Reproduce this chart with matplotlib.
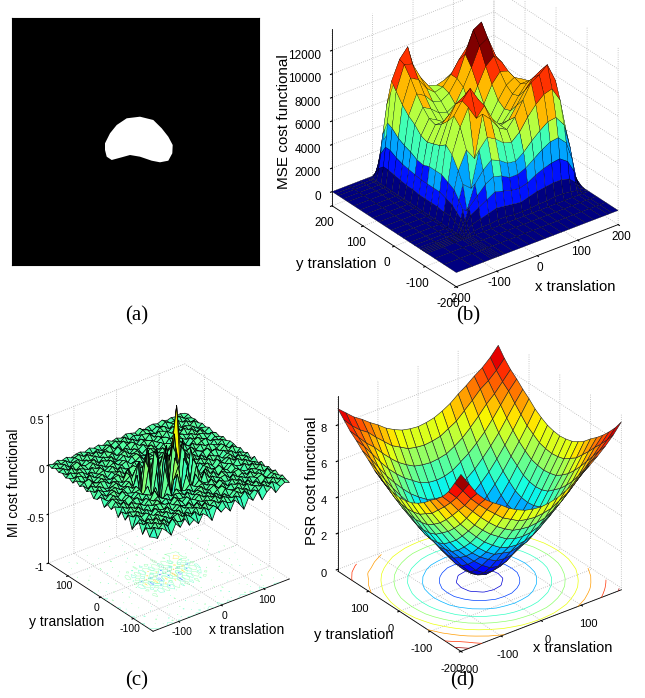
import numpy as np
import matplotlib
matplotlib.use('Agg')
import matplotlib.pyplot as plt

plt.rcParams['font.family'] = ['Liberation Sans', 'DejaVu Sans']
plt.rcParams['axes.unicode_minus'] = False

W, H = 645, 698

# (a) shape outline, in image pixels
shape_x = [93, 98, 104.7, 114.7, 128, 141.3, 149.7, 156.3, 160.7, 160.3, 156.3, 148, 139.7, 128, 118, 109.7, 99.7, 94.7, 93]
shape_y = [125.3, 115.3, 107, 100.3, 98.7, 102, 110.3, 118.7, 127, 135.3, 142.7, 144.3, 142.7, 138.7, 137, 139.3, 142, 138.7, 132]

# (b) MSE surface, values in hundreds
mse_x = [-200, -160, -130, -112, -106, -100, -95, -90, -80, -60, -40, -20, 0, 20, 40, 60, 80, 100, 120, 140, 160, 175, 185, 200]
mse_y = [-200, -160, -130, -105, -100, -95, -90, -85, -78, -65, -50, -30, -10, 10, 30, 50, 70, 90, 110, 130, 150, 165, 180, 190, 200]
mse_inner = [
    [0, 1, 1, 2, 3, 3, 4, 4, 3, 3, 3, 4, 4, 5, 5, 4, 3, 1],
    [1, 3, 5, 7, 9, 11, 13, 12, 11, 10, 12, 14, 15, 16, 16, 14, 9, 3],
    [3, 5, 9, 14, 18, 22, 26, 24, 22, 21, 23, 27, 30, 32, 33, 28, 18, 6],
    [4, 8, 10, 20, 27, 34, 38, 36, 32, 32, 35, 40, 45, 49, 50, 43, 27, 9],
    [5, 11, 18, 16, 36, 45, 51, 48, 43, 42, 47, 54, 60, 65, 66, 57, 36, 12],
    [7, 14, 24, 36, 30, 60, 68, 64, 58, 56, 62, 72, 80, 86, 88, 76, 48, 16],
    [9, 18, 30, 45, 60, 50, 85, 78, 68, 64, 72, 84, 96, 100, 106, 90, 56, 20],
    [9, 20, 33, 55, 76, 90, 78, 86, 72, 64, 66, 76, 86, 94, 98, 84, 54, 20],
    [10, 22, 36, 60, 82, 92, 100, 88, 70, 60, 60, 68, 78, 86, 88, 76, 50, 18],
    [10, 22, 36, 56, 74, 86, 90, 76, 60, 54, 56, 66, 76, 82, 82, 72, 48, 18],
    [10, 22, 36, 54, 68, 74, 70, 62, 54, 52, 58, 70, 80, 84, 80, 68, 46, 17],
    [10, 22, 34, 52, 64, 64, 58, 54, 52, 56, 66, 80, 88, 86, 76, 64, 42, 15],
    [11, 23, 35, 54, 66, 62, 56, 54, 56, 64, 78, 92, 98, 90, 74, 60, 40, 14],
    [11, 24, 38, 60, 72, 68, 62, 60, 64, 76, 90, 106, 110, 92, 74, 56, 36, 12],
    [12, 25, 40, 64, 80, 76, 68, 66, 70, 80, 98, 116, 120, 96, 70, 50, 30, 10],
    [13, 27, 43, 70, 90, 86, 76, 70, 72, 80, 90, 98, 96, 78, 56, 40, 24, 8],
    [14, 30, 48, 78, 98, 96, 82, 72, 70, 72, 76, 78, 70, 56, 40, 28, 16, 5],
    [14, 30, 50, 84, 100, 108, 82, 66, 58, 56, 56, 54, 46, 36, 24, 16, 9, 3],
    [10, 22, 38, 62, 80, 74, 54, 42, 36, 32, 30, 28, 24, 18, 12, 8, 4, 1],
    [5, 10, 18, 30, 38, 32, 24, 18, 15, 13, 12, 10, 8, 6, 4, 2, 1, 0],
]

# (c) MI surface, values in units of 0.005
z_mi = [
    [-8,-14,3,-6,-18,2,-9,5,-12,-4,-16,1,-7,-20,3,-10,-3,-15,4,-8,-22,-2,-11,3,-17,-5,2,-13,-4,1,-3],
    [-12,4,-3,6,-5,7,-2,-6,5,-3,4,-8,6,-4,2,-7,5,-2,-6,4,-3,7,-5,2,-4,6,-2,5,-3,4,-1],
    [2,-4,6,-2,5,-7,3,6,-4,2,-6,5,-2,7,-3,4,-5,6,-1,-4,5,-3,4,-6,3,-2,5,-4,6,-2,3],
    [-16,5,-2,7,-4,3,-6,2,5,-7,3,-2,6,-5,4,-1,6,-4,3,-6,2,5,-3,6,-2,4,-6,3,-1,5,-2],
    [3,-5,4,-3,6,-2,5,-4,-1,6,-3,5,-6,2,-4,5,-2,3,-7,5,-1,-4,6,-3,5,-5,2,6,-4,2,4],
    [-6,2,-7,5,-1,4,-3,6,-5,3,-2,-6,4,-1,6,-3,4,-5,2,6,-4,3,-2,5,-6,3,-1,4,-5,6,-2],
    [-20,6,-2,3,-6,5,-1,-4,6,-2,5,-3,4,-6,2,5,-4,1,6,-3,4,-6,5,-2,3,-4,6,-2,3,-5,2],
    [4,-3,5,-4,2,-6,5,3,-2,-5,6,-1,-3,5,-4,2,6,-5,3,-2,5,-1,-4,6,-3,2,-5,4,-1,6,-3],
    [-10,3,-1,6,-5,3,-2,6,-4,2,-6,4,2,-5,3,-6,1,4,-3,6,-5,2,4,-6,3,5,-2,-4,6,-1,3],
    [2,-6,5,-2,4,-3,6,-1,5,-3,3,-5,6,-2,-4,5,-3,6,-2,-5,4,-3,6,1,-4,2,-6,5,-3,2,-4],
    [-14,4,-3,6,-1,-5,3,-4,12,-4,-10,16,-24,28,-12,20,-18,14,-8,12,-4,5,-6,3,-2,6,-1,-4,5,-3,4],
    [3,-2,6,-5,2,4,-6,3,-2,10,-32,44,-48,12,36,-40,30,-16,24,-6,10,-4,2,6,-5,3,-4,6,-2,4,-5],
    [-7,5,-4,1,6,-3,5,-2,12,-20,36,-56,60,-28,48,-52,40,-36,32,-10,-4,6,-3,-5,4,-2,6,-3,5,-1,3],
    [-2,6,2,-5,3,-6,2,4,-16,40,-60,52,-44,56,-36,50,-64,44,-28,24,-8,3,5,-4,6,-3,1,5,-6,3,-2],
    [-12,-3,5,-2,6,-1,-4,6,-28,52,-40,64,-68,36,-44,60,-32,52,-48,40,-12,4,-2,6,-3,5,-4,2,4,-5,3],
    [4,-5,3,6,-4,2,5,-3,20,-48,56,-52,48,-60,40,-36,56,-44,60,-52,16,-3,6,-2,5,-1,-6,4,-2,6,-1],
    [-5,2,-6,3,5,-3,-1,6,-8,36,-40,60,-36,52,-56,44,-52,68,-40,32,-8,5,-3,4,-6,3,5,-2,6,-3,2],
    [-8,6,-1,-4,2,6,-5,3,10,-24,32,-36,48,-28,40,-32,44,-24,36,-16,12,-2,4,-5,2,6,-3,-1,4,-5,3],
    [3,-4,5,-2,-6,4,1,-5,12,-6,12,-20,28,-16,24,-12,20,-8,28,110,-6,6,-5,3,-1,-4,6,2,-3,5,-1],
    [-3,5,-2,6,3,-5,4,6,-4,10,-8,8,-12,16,-6,10,-4,8,-6,36,10,-4,2,6,-3,5,-2,-6,4,-1,3],
    [4,-6,3,-1,5,-2,-4,2,6,-4,3,6,-2,-5,4,6,-3,2,6,-4,3,5,-1,-5,6,-2,3,5,-4,2,-2],
    [-2,3,6,-4,2,5,-6,3,-1,5,-2,-5,6,3,-4,1,5,-6,3,-2,6,-3,4,2,-5,3,6,-1,-4,5,1],
    [5,-1,-4,6,-3,1,5,-2,6,-4,2,6,-3,-1,5,-6,3,4,-2,5,-4,6,-1,3,-6,4,-2,5,2,-3,-2],
    [-4,6,2,-5,4,-3,6,-4,1,5,-3,3,-6,4,6,-2,-5,6,1,-3,5,2,-5,6,1,-4,5,-2,6,-3,3],
    [1,-3,5,2,-6,5,-1,3,-5,6,-2,-1,5,-3,2,4,-6,1,5,-4,3,-6,4,-1,5,2,-3,6,-4,1,-1],
    [-3,4,-2,5,1,-4,6,-3,4,-1,5,-6,2,6,-4,3,-2,5,-3,6,-1,4,2,-5,3,-2,6,-1,3,-5,2],
    [2,-5,6,-3,4,-1,2,5,-6,3,-2,4,-5,1,3,-4,6,-2,4,1,-5,3,-3,6,-2,5,-4,3,-1,6,-2],
    [-1,3,-4,2,6,-5,3,-2,4,-3,6,1,-2,5,-6,2,4,-5,3,-2,6,-4,5,1,-4,3,2,-6,5,-2,1],
    [3,-2,4,-6,1,3,-4,6,-1,5,-3,2,6,-4,1,5,-3,2,-6,4,2,-1,-5,4,3,-6,1,4,-3,2,-1],
    [-2,4,-1,3,-5,2,5,-3,2,-4,1,-5,3,-1,4,-2,5,-4,1,-3,5,2,-4,1,-3,4,-2,-1,5,-3,2],
    [1,-2,3,-1,2,-3,1,2,-2,3,-1,2,-3,4,-1,2,-2,3,1,-2,4,-3,1,2,-1,3,-2,1,-1,2,-1],
]

# (d) PSR surface
z_psr = [
    [9.7,9.0,8.3,7.8,7.45,7.15,6.8,6.55,6.35,6.25,6.2,6.25,6.35,6.55,6.8,7.15,7.45,7.8,8.2,8.65,9.2],
    [9.0,8.4,7.8,7.3,6.85,6.45,6.05,5.8,5.55,5.45,5.4,5.45,5.55,5.8,6.05,6.45,6.85,7.3,7.7,8.15,8.65],
    [8.3,7.8,7.2,6.7,6.2,5.75,5.35,5.05,4.8,4.7,4.65,4.7,4.8,5.05,5.35,5.75,6.2,6.7,7.2,7.7,8.2],
    [7.8,7.3,6.7,6.1,5.55,5.1,4.7,4.4,4.1,3.95,3.9,3.95,4.1,4.4,4.7,5.1,5.55,6.1,6.7,7.3,7.8],
    [7.45,6.85,6.2,5.55,5.0,4.5,4.05,3.7,3.4,3.25,3.2,3.25,3.4,3.7,4.05,4.5,5.0,5.55,6.2,6.85,7.45],
    [7.15,6.45,5.75,5.1,4.5,3.95,3.5,3.1,2.8,2.7,2.6,2.7,2.8,3.1,3.5,3.95,4.5,5.1,5.75,6.45,7.15],
    [6.8,6.05,5.35,4.7,4.05,3.5,3.0,2.6,2.3,2.05,2.0,2.05,2.3,2.6,3.0,3.5,4.05,4.7,5.35,6.05,6.8],
    [6.55,5.8,5.05,4.4,3.7,3.1,2.6,2.15,1.75,1.45,1.35,1.45,1.75,2.15,2.6,3.1,3.7,4.4,5.05,5.8,6.55],
    [6.35,5.55,4.8,4.1,3.4,2.8,2.3,1.75,1.25,0.95,0.85,0.95,1.25,1.75,2.3,2.8,3.4,4.1,4.8,5.55,6.35],
    [6.25,5.45,4.7,3.95,3.25,2.7,2.05,1.45,0.95,0.6,0.45,0.6,0.95,1.45,2.05,2.7,3.25,3.95,4.7,5.45,6.25],
    [6.2,5.4,4.65,3.9,3.2,2.6,2.0,1.35,0.85,0.45,0.3,0.45,0.85,1.35,2.0,2.6,3.2,3.9,4.65,5.4,6.2],
    [6.25,5.45,4.7,3.95,3.25,2.7,2.05,1.45,0.95,0.6,0.45,0.6,0.95,1.45,2.05,2.7,3.25,3.95,4.7,5.45,6.25],
    [6.35,5.55,4.8,4.1,3.4,2.8,2.3,1.75,1.25,0.95,0.85,0.95,1.25,1.75,2.3,2.8,3.4,4.1,4.8,5.55,6.35],
    [6.55,5.8,5.05,4.4,3.7,3.1,2.6,2.15,1.75,1.45,1.35,1.45,1.75,2.15,2.6,3.1,3.7,4.4,5.05,5.8,6.55],
    [6.8,6.05,5.35,4.7,4.05,3.5,3.0,2.6,2.3,2.05,2.0,2.05,2.3,2.6,3.0,3.5,4.05,4.7,5.35,6.05,6.8],
    [7.15,6.45,5.75,5.1,4.5,3.95,3.5,3.1,2.8,2.7,2.6,2.7,2.8,3.1,3.5,3.95,4.5,5.1,5.75,6.45,7.15],
    [7.45,6.85,6.2,5.55,5.0,4.5,4.05,3.7,3.4,3.25,3.2,3.25,3.4,3.7,4.05,4.5,5.0,5.55,6.2,6.85,7.45],
    [7.8,7.3,6.7,6.1,5.55,5.1,4.7,4.4,4.1,3.95,3.9,3.95,4.1,4.4,4.7,5.1,5.55,6.1,6.7,7.3,7.8],
    [8.1,7.6,7.1,6.7,6.2,5.75,5.35,5.05,4.8,4.7,4.65,4.7,4.8,5.05,5.35,5.75,6.2,6.7,7.1,7.6,8.1],
    [8.5,8.0,7.6,7.3,6.85,6.45,6.05,5.8,5.55,5.45,5.4,5.45,5.55,5.8,6.05,6.45,6.85,7.3,7.6,8.0,8.5],
    [8.9,8.5,8.1,7.8,7.45,7.15,6.8,6.55,6.35,6.25,6.2,6.25,6.35,6.55,6.8,7.15,7.45,7.8,8.1,8.5,9.0],
]

fig = plt.figure(figsize=(W / 100, H / 100), dpi=100)


def axes3d(cx, cy, size):
    rect = [(cx - size / 2) / W, 1 - (cy + size / 2) / H, size / W, size / H]
    ax = fig.add_axes(rect, projection='3d', proj_type='ortho', computed_zorder=False)
    ax.view_init(elev=30, azim=-127.5)
    ax.set_box_aspect((1, 1, 1))
    ax.patch.set_alpha(0)
    for axis in (ax.xaxis, ax.yaxis, ax.zaxis):
        axis.set_pane_color((1, 1, 1, 0))
        axis.pane.set_edgecolor((1, 1, 1, 0))
        axis.line.set_color('k')
        axis.line.set_linewidth(0.6)
        axis._axinfo['grid'].update(color='#b5b5b5', linestyle=':', linewidth=0.6)
        axis._axinfo['tick'].update(inward_factor=0.12, outward_factor=0.0)
    return ax


def tick_style(ax, size, zpad=-3, xpad=-5, ypad=-2):
    ax.tick_params(axis='x', labelsize=size, pad=xpad)
    ax.tick_params(axis='y', labelsize=size, pad=ypad)
    ax.tick_params(axis='z', labelsize=size, pad=zpad)
    for lab in ax.get_zticklabels():
        lab.set_ha('right')


def label(x, y, s, size, **kw):
    fig.text(x / W, 1 - y / H, s, fontsize=size, ha='center', va='center', **kw)


# (a)
ax_a = fig.add_axes([12 / W, 1 - 265 / H, 247 / W, 247 / H])
ax_a.set_facecolor('k')
ax_a.fill(shape_x, shape_y, color='w', lw=0)
ax_a.set_xlim(0, 247)
ax_a.set_ylim(247, 0)
ax_a.set_xticks([])
ax_a.set_yticks([])

# (b)
ax_b = axes3d(470.5, 131.5, 343)
z_mse = np.zeros((len(mse_y), len(mse_x)))
z_mse[4:24, 5:23] = np.array(mse_inner) * 100
Xb, Yb = np.meshgrid(mse_x, mse_y)
ax_b.plot_surface(Xb, Yb, z_mse, cmap=plt.get_cmap('jet', 8), vmin=0, vmax=11500, rcount=100, ccount=100,
                  shade=False, edgecolor='k', linewidth=0.2)
ax_b.set_xlim(-200, 200)
ax_b.set_ylim(-200, 200)
ax_b.set_zlim(-1200, 13800)
ax_b.set_xticks([-200, -100, 0, 100, 200])
ax_b.set_yticks([-200, -100, 0, 100, 200])
ax_b.set_zticks(range(0, 12001, 2000))
tick_style(ax_b, 8.5)
label(284, 122, 'MSE cost functional', 11, rotation=90)
label(336, 264, 'y translation', 10.7)
label(575, 287, 'x translation', 10.7)

# (c)
ax_c = axes3d(165, 500.5, 289)
mi_axis = np.linspace(-160, 160, 31)
Xc, Yc = np.meshgrid(mi_axis, mi_axis)
Zc = np.array(z_mi) * 0.005
ax_c.contour(Xc, Yc, Zc, zdir='z', offset=-1, levels=[-0.2, -0.028, 0.028, 0.22],
             cmap='jet', vmin=-0.45, vmax=0.55, linewidths=0.3, alpha=0.7, zorder=1)
ax_c.plot_surface(Xc, Yc, Zc, cmap='jet', vmin=-0.45, vmax=0.55, rcount=100, ccount=100,
                  shade=False, edgecolor='k', linewidth=0.5, zorder=2)
ax_c.set_xlim(-160, 160)
ax_c.set_ylim(-160, 160)
ax_c.set_zlim(-1, 0.52)
ax_c.set_xticks([-100, 0, 100])
ax_c.set_yticks([-100, 0, 100])
ax_c.set_zticks([-1, -0.5, 0, 0.5])
ax_c.set_zticklabels(['-1', '-0.5', '0', '0.5'])
tick_style(ax_c, 7.5, zpad=-6, ypad=-5)
label(14, 483, 'MI cost functional', 10, rotation=90)
label(67, 622, 'y translation', 10)
label(247, 630, 'x translation', 10)

# (d)
ax_d = axes3d(475, 497.5, 340)
psr_axis = np.linspace(-200, 200, 21)
Xd, Yd = np.meshgrid(psr_axis, psr_axis)
Zd = np.array(z_psr)
ax_d.contour(Xd, Yd, Zd, zdir='z', offset=-0.1, levels=np.arange(1, 10), cmap='jet',
             vmin=0.3, vmax=9.3, linewidths=0.5, zorder=1)
ax_d.plot_surface(Xd, Yd, Zd, cmap='jet', vmin=0.3, vmax=9.3, rcount=100, ccount=100,
                  shade=False, edgecolor='#202020', linewidth=0.4, zorder=2)
ax_d.set_xlim(-200, 200)
ax_d.set_ylim(-200, 200)
ax_d.set_zlim(-0.1, 9.6)
ax_d.set_xticks([-200, -100, 0, 100])
ax_d.set_yticks([-200, -100, 0, 100])
ax_d.set_zticks([0, 2, 4, 6, 8])
tick_style(ax_d, 8, xpad=-1, ypad=-1)
label(312, 481, 'PSR cost functional', 10.5, rotation=90)
label(354, 635, 'y translation', 10.5)
label(573, 648, 'x translation', 10.5)

# captions
for x, y, s in [(137, 316, '(a)'), (468, 316, '(b)'), (137, 681, '(c)'), (462, 681, '(d)')]:
    label(x, y, s, 15, family=['Liberation Serif', 'DejaVu Serif'])

fig.savefig('out.png', dpi=100)
